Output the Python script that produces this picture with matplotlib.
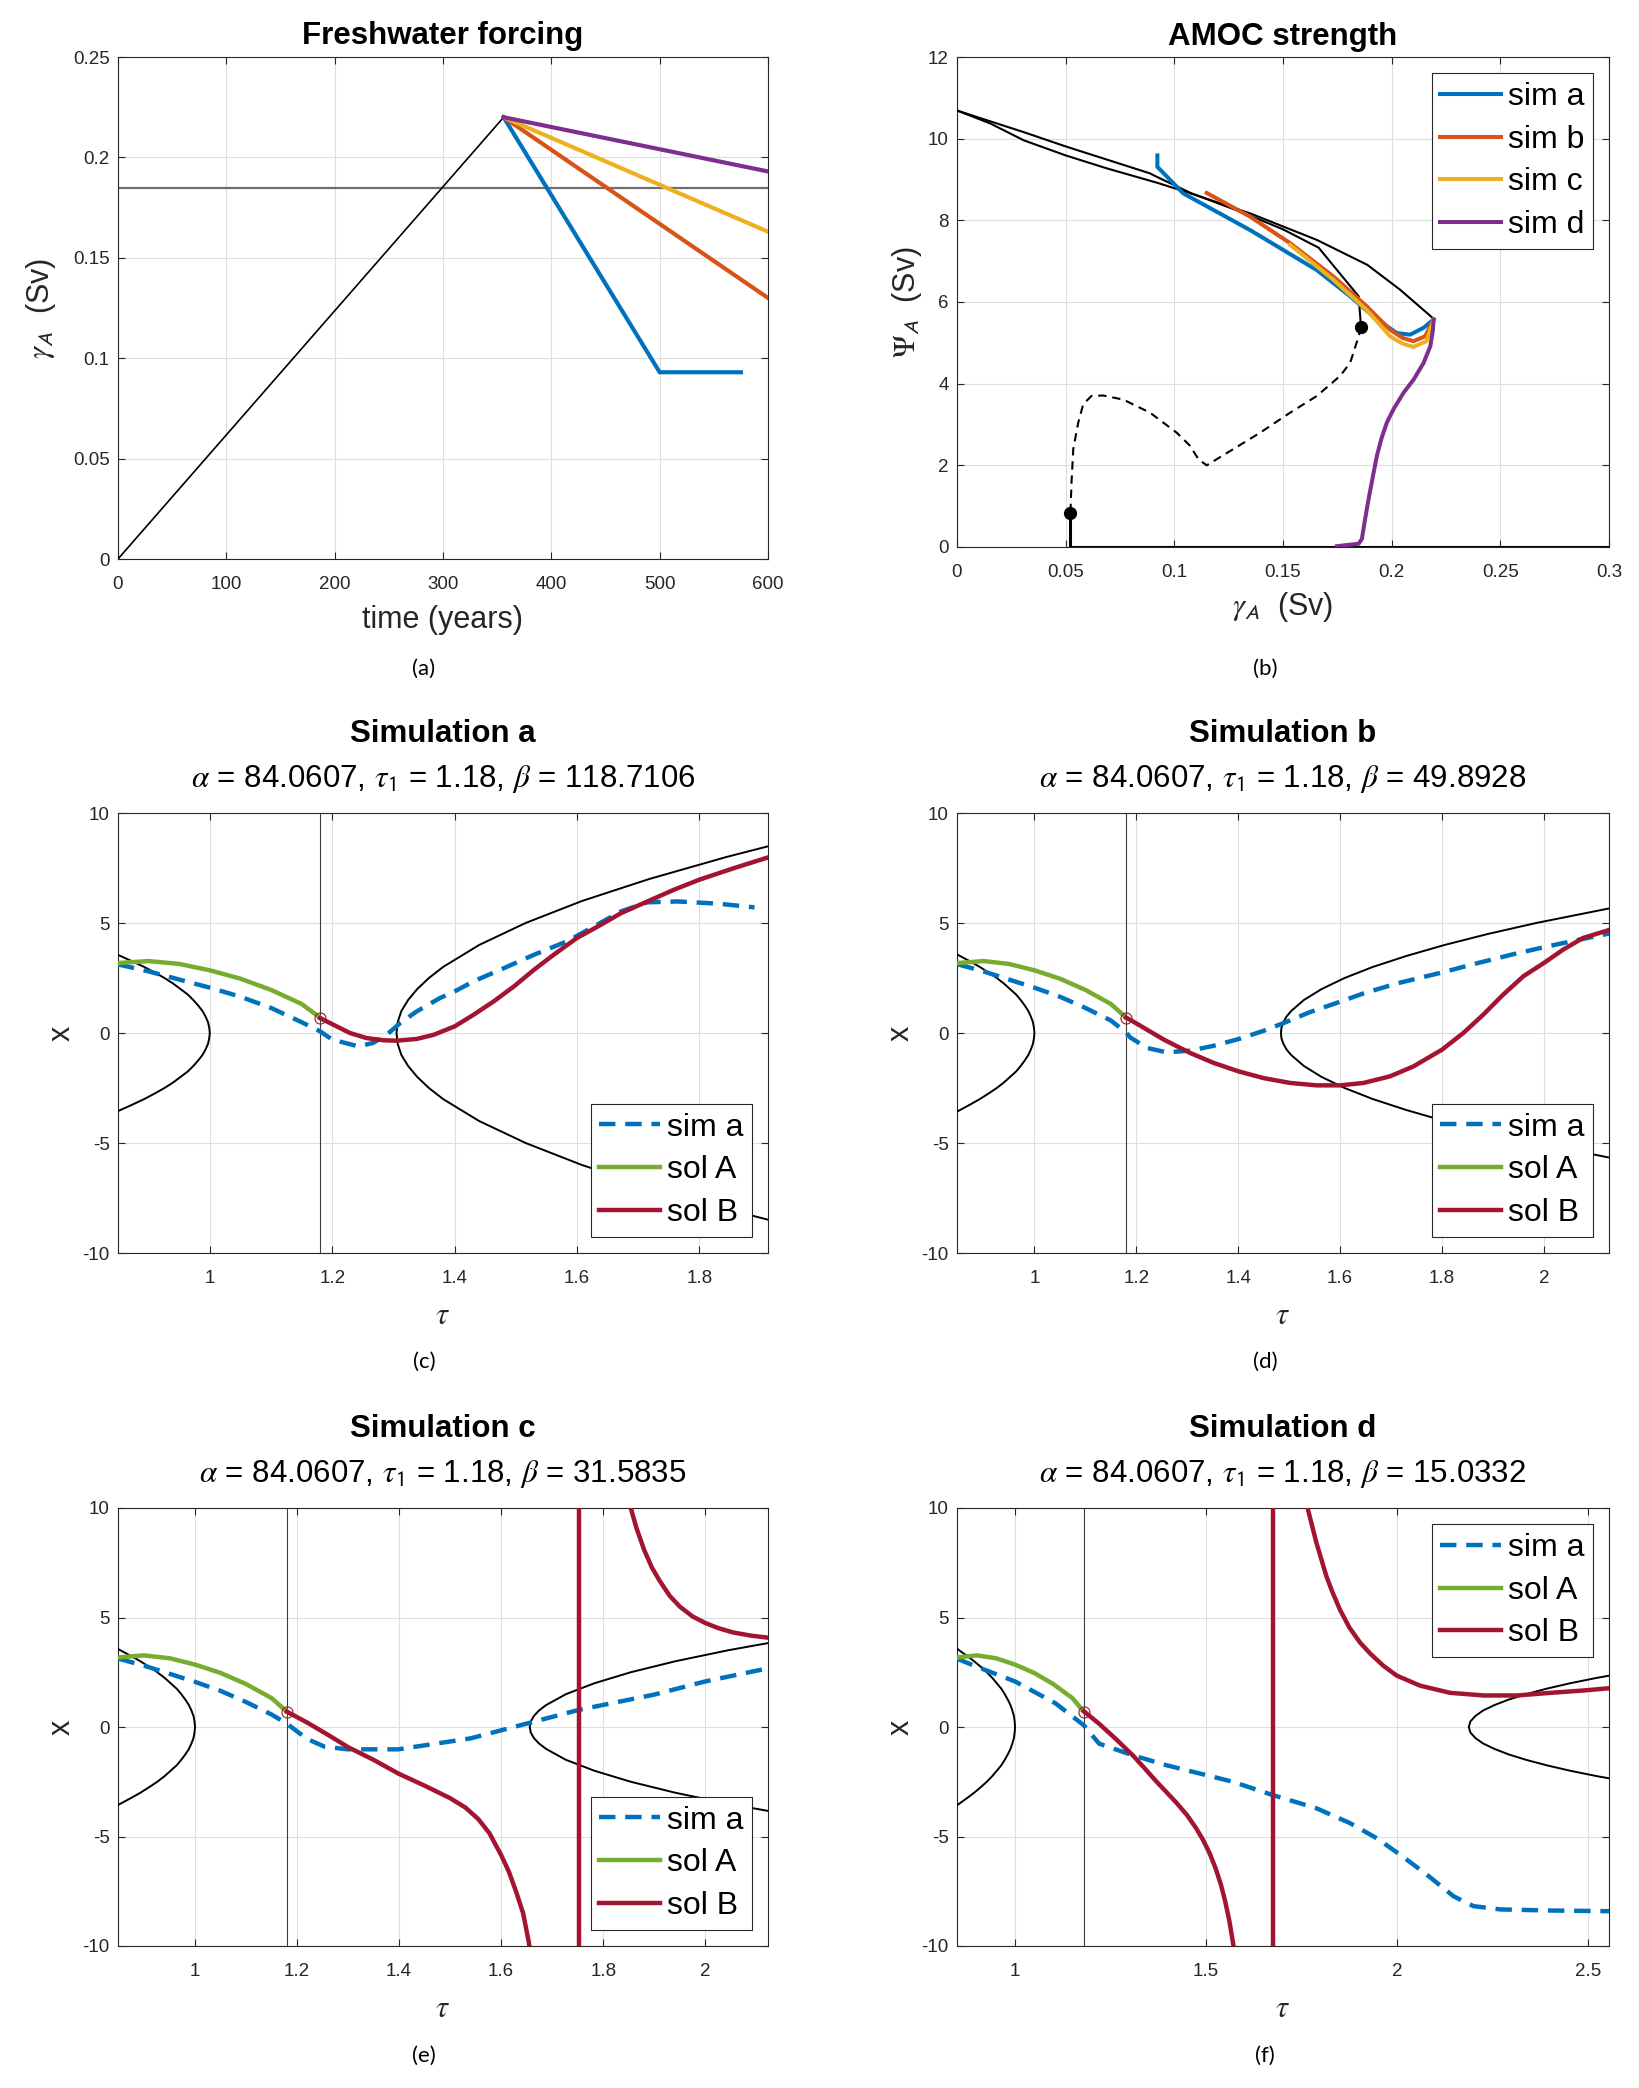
import matplotlib
matplotlib.use('Agg')
import matplotlib.pyplot as plt

plt.rcParams['font.family'] = ['Liberation Sans', 'DejaVu Sans']
plt.rcParams['mathtext.fontset'] = 'stix'
plt.rcParams['axes.unicode_minus'] = False

# ---------------- colours ----------------
BLUE = '#0072BD'; ORANGE = '#D95319'; YELLOW = '#EDB120'; PURPLE = '#7E2F8E'
GREEN = '#77AC30'; DRED = '#A2142F'; AXC = '#262626'

# ---------------- panel (a) data ----------------
ramp_t = [0, 356]
ramp_g = [0.0, 0.22]
sim_a_t = [356, 500, 575]
sim_a_g = [0.22, 0.093, 0.093]
sim_b_t = [356, 600]
sim_b_g = [0.22, 0.130]
sim_c_t = [356, 600]
sim_c_g = [0.22, 0.163]
sim_d_t = [356, 600]
sim_d_g = [0.22, 0.193]
threshold = 0.185
a_xticks = [0, 100, 200, 300, 400, 500, 600]
a_yticks = [0, 0.05, 0.1, 0.15, 0.2, 0.25]
a_yticklabels = ['0', '0.05', '0.1', '0.15', '0.2', '0.25']

# ---------------- panel (b) data ----------------
traj_g = [0.0, 0.0154, 0.0307, 0.05, 0.0691, 0.0921, 0.1075, 0.1349, 0.1656, 0.1888, 0.2039, 0.2193]
traj_p = [10.69, 10.37, 9.96, 9.59, 9.27, 8.92, 8.66, 8.17, 7.52, 6.91, 6.30, 5.59]
stab_g = [0.0, 0.0092, 0.0307, 0.05, 0.0888, 0.0906, 0.1075, 0.1305, 0.15, 0.1664, 0.1848, 0.1859]
stab_p = [10.69, 10.53, 10.16, 9.81, 9.15, 9.10, 8.67, 8.21, 7.78, 7.33, 6.14, 5.39]
unst_g = [0.1859, 0.1848, 0.1809, 0.1763, 0.1656, 0.1533, 0.1395, 0.1149, 0.1111, 0.1072,
          0.1011, 0.0888, 0.0765, 0.0673, 0.0619, 0.0581, 0.0558, 0.0535, 0.0527, 0.0522]
unst_p = [5.39, 5.16, 4.51, 4.19, 3.70, 3.29, 2.80, 2.00, 2.15, 2.48,
          2.80, 3.29, 3.61, 3.71, 3.70, 3.50, 3.05, 2.40, 1.59, 0.83]
off_g = [0.0522, 0.0522, 0.3]
off_p = [0.83, 0.0, 0.0]
fold_g = [0.1859, 0.0522]
fold_p = [5.39, 0.83]
b_sa_g = [0.0922, 0.0922, 0.1041, 0.1349, 0.1656, 0.1809, 0.1932, 0.2024, 0.2085, 0.2147, 0.2193]
b_sa_p = [9.59, 9.31, 8.66, 7.76, 6.78, 6.14, 5.57, 5.24, 5.20, 5.37, 5.57]
b_sb_g = [0.1149, 0.1349, 0.1533, 0.1733, 0.1886, 0.1993, 0.2050, 0.2100, 0.2154, 0.2193]
b_sb_p = [8.67, 8.09, 7.44, 6.62, 5.89, 5.32, 5.12, 5.04, 5.16, 5.57]
b_sc_g = [0.1533, 0.1733, 0.1886, 0.1993, 0.2050, 0.2100, 0.2160, 0.2193]
b_sc_p = [7.40, 6.54, 5.80, 5.16, 4.98, 4.90, 5.04, 5.57]
b_sd_g = [0.2193, 0.2190, 0.2178, 0.2147, 0.2101, 0.2055, 0.2009, 0.1978, 0.1952, 0.1932,
          0.1914, 0.1894, 0.1878, 0.1863, 0.1848, 0.1748]
b_sd_p = [5.57, 5.32, 4.92, 4.51, 4.10, 3.78, 3.38, 3.05, 2.64, 2.23,
          1.74, 1.18, 0.69, 0.20, 0.08, 0.02]
b_xticks = [0, 0.05, 0.1, 0.15, 0.2, 0.25, 0.3]
b_xticklabels = ['0', '0.05', '0.1', '0.15', '0.2', '0.25', '0.3']
b_yticks = [0, 2, 4, 6, 8, 10, 12]

# ---------------- panels (c)-(f) common data ----------------
tau1 = 1.18
switch_x = 0.7
parL_x = [3.6, 3.25, 3.0, 2.75, 2.5, 2.25, 2.0, 1.75, 1.5, 1.25, 1.0, 0.75, 0.5, 0.25, 0.0,
          -0.25, -0.5, -0.75, -1.0, -1.25, -1.5, -1.75, -2.0, -2.25, -2.5, -2.75, -3.0, -3.25, -3.6]
parL_t = [0.846, 0.874, 0.893, 0.910, 0.926, 0.940, 0.952, 0.964, 0.973, 0.981, 0.988, 0.993,
          0.997, 0.999, 1.0, 0.999, 0.997, 0.993, 0.988, 0.981, 0.973, 0.964, 0.952, 0.940,
          0.926, 0.910, 0.893, 0.874, 0.846]
solA_t = [0.85, 0.90, 0.95, 1.00, 1.05, 1.10, 1.15, 1.18]
solA_x = [3.18, 3.27, 3.14, 2.85, 2.47, 1.96, 1.32, 0.70]
x_yticks = [-10, -5, 0, 5, 10]

# (c) beta = 118.7106
c_par_x = [8.6, 8, 7, 6, 5, 4, 3, 2.5, 2, 1.5, 1, 0.5, 0, -0.5, -1, -1.5, -2, -2.5, -3, -4, -5, -6,
           -7, -8, -8.6]
c_par_t = [1.928, 1.844, 1.718, 1.608, 1.516, 1.440, 1.381, 1.358, 1.339, 1.324, 1.313, 1.307,
           1.305, 1.307, 1.313, 1.324, 1.339, 1.358, 1.381, 1.440, 1.516, 1.608, 1.718, 1.844, 1.928]
c_sim_t = [0.85, 0.90, 0.95, 1.00, 1.05, 1.10, 1.147, 1.18, 1.20, 1.243, 1.267, 1.289, 1.311,
           1.338, 1.376, 1.40, 1.431, 1.475, 1.53, 1.584, 1.628, 1.672, 1.715, 1.764, 1.83, 1.89]
c_sim_x = [3.12, 2.80, 2.43, 2.06, 1.65, 1.14, 0.53, 0.08, -0.30, -0.61, -0.45, -0.08, 0.45,
           0.98, 1.59, 1.89, 2.35, 2.88, 3.56, 4.17, 4.85, 5.53, 5.94, 5.98, 5.88, 5.71]
c_solB_t = [1.18, 1.2016, 1.229, 1.256, 1.284, 1.305, 1.338, 1.366, 1.40, 1.431, 1.464, 1.497,
            1.53, 1.562, 1.60, 1.639, 1.672, 1.715, 1.759, 1.80, 1.857, 1.912]
c_solB_x = [0.68, 0.38, 0.0, -0.23, -0.33, -0.35, -0.27, -0.08, 0.30, 0.83, 1.44, 2.12,
            2.88, 3.56, 4.32, 4.92, 5.45, 5.98, 6.52, 6.97, 7.50, 7.98]

# (d) beta = 49.8928
d_par_x = [5.8, 5, 4.5, 4, 3.5, 3, 2.5, 2, 1.5, 1, 0.75, 0.5, 0.25, 0, -0.25, -0.5, -0.75, -1, -1.5,
           -2, -2.5, -3, -3.5, -4, -4.5, -5, -5.8]
d_par_t = [2.158, 1.985, 1.890, 1.805, 1.730, 1.664, 1.609, 1.564, 1.529, 1.504, 1.495, 1.489,
           1.485, 1.484, 1.485, 1.489, 1.495, 1.504, 1.529, 1.564, 1.609, 1.664, 1.730, 1.805,
           1.890, 1.985, 2.158]
d_sim_t = [0.85, 0.90, 0.95, 1.00, 1.05, 1.10, 1.15, 1.18, 1.188, 1.221, 1.26, 1.306, 1.352,
           1.40, 1.45, 1.489, 1.541, 1.60, 1.646, 1.711, 1.80, 1.874, 1.94, 2.00, 2.071, 2.128]
d_sim_x = [3.12, 2.80, 2.43, 2.06, 1.65, 1.14, 0.57, 0.02, -0.20, -0.68, -0.88, -0.80, -0.58,
           -0.28, 0.10, 0.45, 0.95, 1.42, 1.80, 2.25, 2.75, 3.20, 3.58, 3.90, 4.25, 4.52]
d_solB_t = [1.18, 1.188, 1.221, 1.254, 1.306, 1.352, 1.40, 1.45, 1.502, 1.554, 1.60, 1.646,
            1.698, 1.744, 1.80, 1.842, 1.881, 1.92, 1.96, 2.00, 2.038, 2.077, 2.128]
d_solB_x = [0.70, 0.60, 0.15, -0.30, -0.91, -1.36, -1.74, -2.05, -2.27, -2.38, -2.38, -2.27,
            -1.97, -1.52, -0.76, 0.0, 0.83, 1.74, 2.58, 3.18, 3.79, 4.32, 4.68]

# (e) beta = 31.5835
e_par_x = [4.0, 3.5, 3, 2.5, 2, 1.5, 1, 0.75, 0.5, 0.25, 0, -0.25, -0.5, -0.75, -1, -1.5, -2,
           -2.5, -3, -3.5, -4.0]
e_par_t = [2.163, 2.044, 1.941, 1.854, 1.783, 1.727, 1.688, 1.674, 1.664, 1.658, 1.656, 1.658,
           1.664, 1.674, 1.688, 1.727, 1.783, 1.854, 1.941, 2.044, 2.163]
e_sim_t = [0.85, 0.90, 0.95, 1.00, 1.05, 1.10, 1.15, 1.18, 1.22, 1.254, 1.30, 1.398, 1.54,
           1.654, 1.752, 1.90, 2.00, 2.123]
e_sim_x = [3.12, 2.80, 2.43, 2.06, 1.65, 1.14, 0.57, 0.15, -0.55, -0.90, -1.02, -1.02, -0.52,
           0.18, 0.78, 1.48, 2.08, 2.68]
e_solB_lo_t = [1.18, 1.22, 1.26, 1.30, 1.35, 1.398, 1.45, 1.50, 1.53, 1.555, 1.577, 1.60,
               1.615, 1.629, 1.643, 1.654, 1.665]
e_solB_lo_x = [0.70, 0.20, -0.35, -0.92, -1.50, -2.12, -2.68, -3.25, -3.68, -4.20, -4.85, -5.85,
               -6.60, -7.50, -8.50, -9.80, -11.5]
e_pole = 1.752
e_solB_hi_t = [1.845, 1.854, 1.865, 1.88, 1.895, 1.91, 1.93, 1.95, 1.975, 2.00, 2.025, 2.054,
               2.09, 2.123]
e_solB_hi_x = [11.0, 10.0, 9.10, 8.10, 7.30, 6.70, 6.00, 5.50, 5.05, 4.75, 4.52, 4.32, 4.17, 4.08]

# (f) beta = 15.0332
f_par_x = [2.6, 2.25, 2.0, 1.75, 1.5, 1.25, 1.0, 0.75, 0.5, 0.25, 0.0, -0.25, -0.5, -0.75, -1.0,
           -1.25, -1.5, -1.75, -2.0, -2.25, -2.6]
f_par_t = [2.638, 2.525, 2.454, 2.392, 2.338, 2.292, 2.255, 2.225, 2.205, 2.192, 2.188, 2.192,
           2.205, 2.225, 2.255, 2.292, 2.338, 2.392, 2.454, 2.525, 2.638]
f_sim_t = [0.848, 0.90, 1.00, 1.106, 1.18, 1.22, 1.308, 1.395, 1.483, 1.57, 1.675, 1.789,
           1.877, 1.947, 2.008, 2.078, 2.148, 2.20, 2.271, 2.402, 2.555]
f_sim_x = [3.12, 2.75, 2.08, 1.08, 0.08, -0.76, -1.29, -1.74, -2.12, -2.50, -3.11, -3.71,
           -4.39, -5.08, -5.83, -6.74, -7.73, -8.18, -8.33, -8.38, -8.41]
f_solB_lo_t = [1.18, 1.22, 1.264, 1.308, 1.34, 1.369, 1.395, 1.421, 1.45, 1.474, 1.492, 1.509,
               1.525, 1.539, 1.55, 1.561, 1.572, 1.582]
f_solB_lo_x = [0.72, 0.15, -0.55, -1.29, -1.90, -2.47, -2.95, -3.43, -4.02, -4.62, -5.15, -5.75,
               -6.45, -7.20, -7.95, -8.85, -10.0, -11.2]
f_pole = 1.675
f_solB_hi_t = [1.763, 1.767, 1.789, 1.815, 1.83, 1.85, 1.875, 1.903, 1.93, 1.964, 1.999, 2.06,
               2.139, 2.227, 2.314, 2.402, 2.49, 2.555]
f_solB_hi_x = [10.6, 9.92, 8.41, 6.89, 6.20, 5.38, 4.55, 3.86, 3.35, 2.80, 2.35, 1.89,
               1.56, 1.44, 1.44, 1.56, 1.67, 1.77]

panels = {
    'c': dict(title='Simulation a', beta='118.7106', xlim=(0.85, 1.912),
              xticks=[1, 1.2, 1.4, 1.6, 1.8], xticklabels=['1', '1.2', '1.4', '1.6', '1.8'],
              par=(c_par_t, c_par_x), sim=(c_sim_t, c_sim_x),
              solB=[(c_solB_t, c_solB_x)], pole=None, legloc='lower right'),
    'd': dict(title='Simulation b', beta='49.8928', xlim=(0.848, 2.128),
              xticks=[1, 1.2, 1.4, 1.6, 1.8, 2], xticklabels=['1', '1.2', '1.4', '1.6', '1.8', '2'],
              par=(d_par_t, d_par_x), sim=(d_sim_t, d_sim_x),
              solB=[(d_solB_t, d_solB_x)], pole=None, legloc='lower right'),
    'e': dict(title='Simulation c', beta='31.5835', xlim=(0.849, 2.123),
              xticks=[1, 1.2, 1.4, 1.6, 1.8, 2], xticklabels=['1', '1.2', '1.4', '1.6', '1.8', '2'],
              par=(e_par_t, e_par_x), sim=(e_sim_t, e_sim_x),
              solB=[(e_solB_lo_t, e_solB_lo_x), (e_solB_hi_t, e_solB_hi_x)], pole=e_pole,
              legloc='lower right'),
    'f': dict(title='Simulation d', beta='15.0332', xlim=(0.848, 2.555),
              xticks=[1, 1.5, 2, 2.5], xticklabels=['1', '1.5', '2', '2.5'],
              par=(f_par_t, f_par_x), sim=(f_sim_t, f_sim_x),
              solB=[(f_solB_lo_t, f_solB_lo_x), (f_solB_hi_t, f_solB_hi_x)], pole=f_pole,
              legloc='upper right'),
}

# ---------------- figure ----------------
W, H = 1640, 2088
fig = plt.figure(figsize=(W / 100, H / 100), dpi=100)


def add_ax(l, t, r, b):
    return fig.add_axes([l / W, 1 - b / H, (r - l) / W, (b - t) / H])


def style(ax):
    ax.grid(True, color='#dedede', lw=0.8)
    ax.set_axisbelow(True)
    ax.tick_params(direction='in', top=True, right=True, length=5, width=0.8,
                   labelsize=13.5, colors=AXC)
    ax.tick_params(axis='x', pad=12)
    ax.tick_params(axis='y', pad=6)
    for s in ax.spines.values():
        s.set_color(AXC)
        s.set_linewidth(0.8)


def legend(ax, loc):
    leg = ax.legend(loc=loc, fontsize=23, frameon=True, fancybox=False, edgecolor=AXC,
                    framealpha=1, borderpad=0.28, handlelength=1.9, handletextpad=0.2,
                    labelspacing=0.4, borderaxespad=0.5)
    leg.get_frame().set_linewidth(0.8)
    return leg


ax_a = add_ax(118, 57, 768, 559)
ax_b = add_ax(957, 57, 1609, 547)
ax_c = add_ax(118, 813, 768, 1253)
ax_d = add_ax(957, 813, 1609, 1253)
ax_e = add_ax(118, 1508, 768, 1946)
ax_f = add_ax(957, 1508, 1609, 1946)

# ---- (a) ----
ax = ax_a
style(ax)
ax.axhline(threshold, color='#6e6e6e', lw=1.6, zorder=2)
ax.plot(ramp_t, ramp_g, color='k', lw=1.2, zorder=3)
ax.plot(sim_a_t, sim_a_g, color=BLUE, lw=3, zorder=4)
ax.plot(sim_b_t, sim_b_g, color=ORANGE, lw=3, zorder=4)
ax.plot(sim_c_t, sim_c_g, color=YELLOW, lw=3, zorder=4)
ax.plot(sim_d_t, sim_d_g, color=PURPLE, lw=3, zorder=4)
ax.set_xlim(0, 600)
ax.set_ylim(0, 0.25)
ax.set_xticks(a_xticks)
ax.set_yticks(a_yticks)
ax.set_yticklabels(a_yticklabels)
ax.set_xlabel('time (years)', fontsize=22, color=AXC, labelpad=9)
ax.set_ylabel(r'$\gamma_{\mathsf{A}}$  (Sv)', fontsize=22, color=AXC, labelpad=11)
ax.text(0.5, 1.025, 'Freshwater forcing', transform=ax.transAxes, ha='center',
        va='baseline', fontsize=22.5, fontweight='bold')

# ---- (b) ----
ax = ax_b
style(ax)
ax.plot(traj_g, traj_p, color='k', lw=1.5, zorder=3)
ax.plot(stab_g, stab_p, color='k', lw=1.5, zorder=3)
ax.plot(unst_g, unst_p, color='k', lw=1.5, dashes=(4, 2.8), zorder=3)
ax.plot(off_g, off_p, color='k', lw=2.2, zorder=3)
ax.plot(b_sa_g, b_sa_p, color=BLUE, lw=2.9, label='sim a', zorder=4)
ax.plot(b_sb_g, b_sb_p, color=ORANGE, lw=2.9, label='sim b', zorder=4)
ax.plot(b_sc_g, b_sc_p, color=YELLOW, lw=2.9, label='sim c', zorder=4)
ax.plot(b_sd_g, b_sd_p, color=PURPLE, lw=2.9, label='sim d', zorder=4)
ax.plot(fold_g, fold_p, 'o', color='k', ms=8.5, zorder=5)
ax.set_xlim(0, 0.3)
ax.set_ylim(0, 12)
ax.set_xticks(b_xticks)
ax.set_xticklabels(b_xticklabels)
ax.set_yticks(b_yticks)
ax.set_xlabel(r'$\gamma_{\mathsf{A}}$  (Sv)', fontsize=22, color=AXC, labelpad=7)
ax.set_ylabel(r'$\Psi_{\mathsf{A}}$  (Sv)', fontsize=22, color=AXC, labelpad=3)
ax.text(0.5, 1.025, 'AMOC strength', transform=ax.transAxes, ha='center',
        va='baseline', fontsize=22.5, fontweight='bold')
legend(ax, 'upper right')

# ---- (c)-(f) ----
for key, ax in zip(['c', 'd', 'e', 'f'], [ax_c, ax_d, ax_e, ax_f]):
    p = panels[key]
    style(ax)
    ax.axvline(tau1, color='#3c3c3c', lw=0.8, zorder=2)
    ax.plot(parL_t, parL_x, color='k', lw=1.4, zorder=3)
    ax.plot(p['par'][0], p['par'][1], color='k', lw=1.4, zorder=3)
    ax.plot(p['sim'][0], p['sim'][1], color=BLUE, lw=3.2, dashes=(3.7, 2.2),
            label='sim a', zorder=4)
    ax.plot(solA_t, solA_x, color=GREEN, lw=3.2, label='sol A', zorder=5)
    for i, (tt, xx) in enumerate(p['solB']):
        ax.plot(tt, xx, color=DRED, lw=3.2, label='sol B' if i == 0 else None, zorder=5)
    if p['pole'] is not None:
        ax.plot([p['pole'], p['pole']], [-12, 12], color=DRED, lw=3.2, zorder=5)
    ax.plot([tau1], [switch_x], 'o', mfc='none', mec=DRED, ms=8, mew=0.8, zorder=6)
    ax.set_xlim(*p['xlim'])
    ax.set_ylim(-10, 10)
    ax.set_xticks(p['xticks'])
    ax.set_xticklabels(p['xticklabels'])
    ax.set_yticks(x_yticks)
    ax.set_xlabel(r'$\tau$', fontsize=22, color=AXC, labelpad=10)
    ax.set_ylabel('x', fontsize=22, color=AXC, labelpad=4)
    ax.text(0.5, 1.161, p['title'], transform=ax.transAxes, ha='center',
            va='baseline', fontsize=22.5, fontweight='bold')
    ax.text(0.5, 1.059, r'$\alpha$ = 84.0607, $\tau_{\mathsf{1}}$ = 1.18, $\beta$ = ' + p['beta'],
            transform=ax.transAxes, ha='center', va='baseline', fontsize=22.5)
    legend(ax, p['legloc'])

# ---- captions ----
caps = [('(a)', 424, 669), ('(b)', 1265, 669), ('(c)', 424, 1362),
        ('(d)', 1265, 1362), ('(e)', 424, 2056), ('(f)', 1265, 2056)]
for txt, cx, cy in caps:
    fig.text(cx / W, 1 - cy / H, txt, ha='center', va='center', fontsize=16,
             family=['Lato', 'DejaVu Sans'])

fig.savefig('out.png', dpi=100)
